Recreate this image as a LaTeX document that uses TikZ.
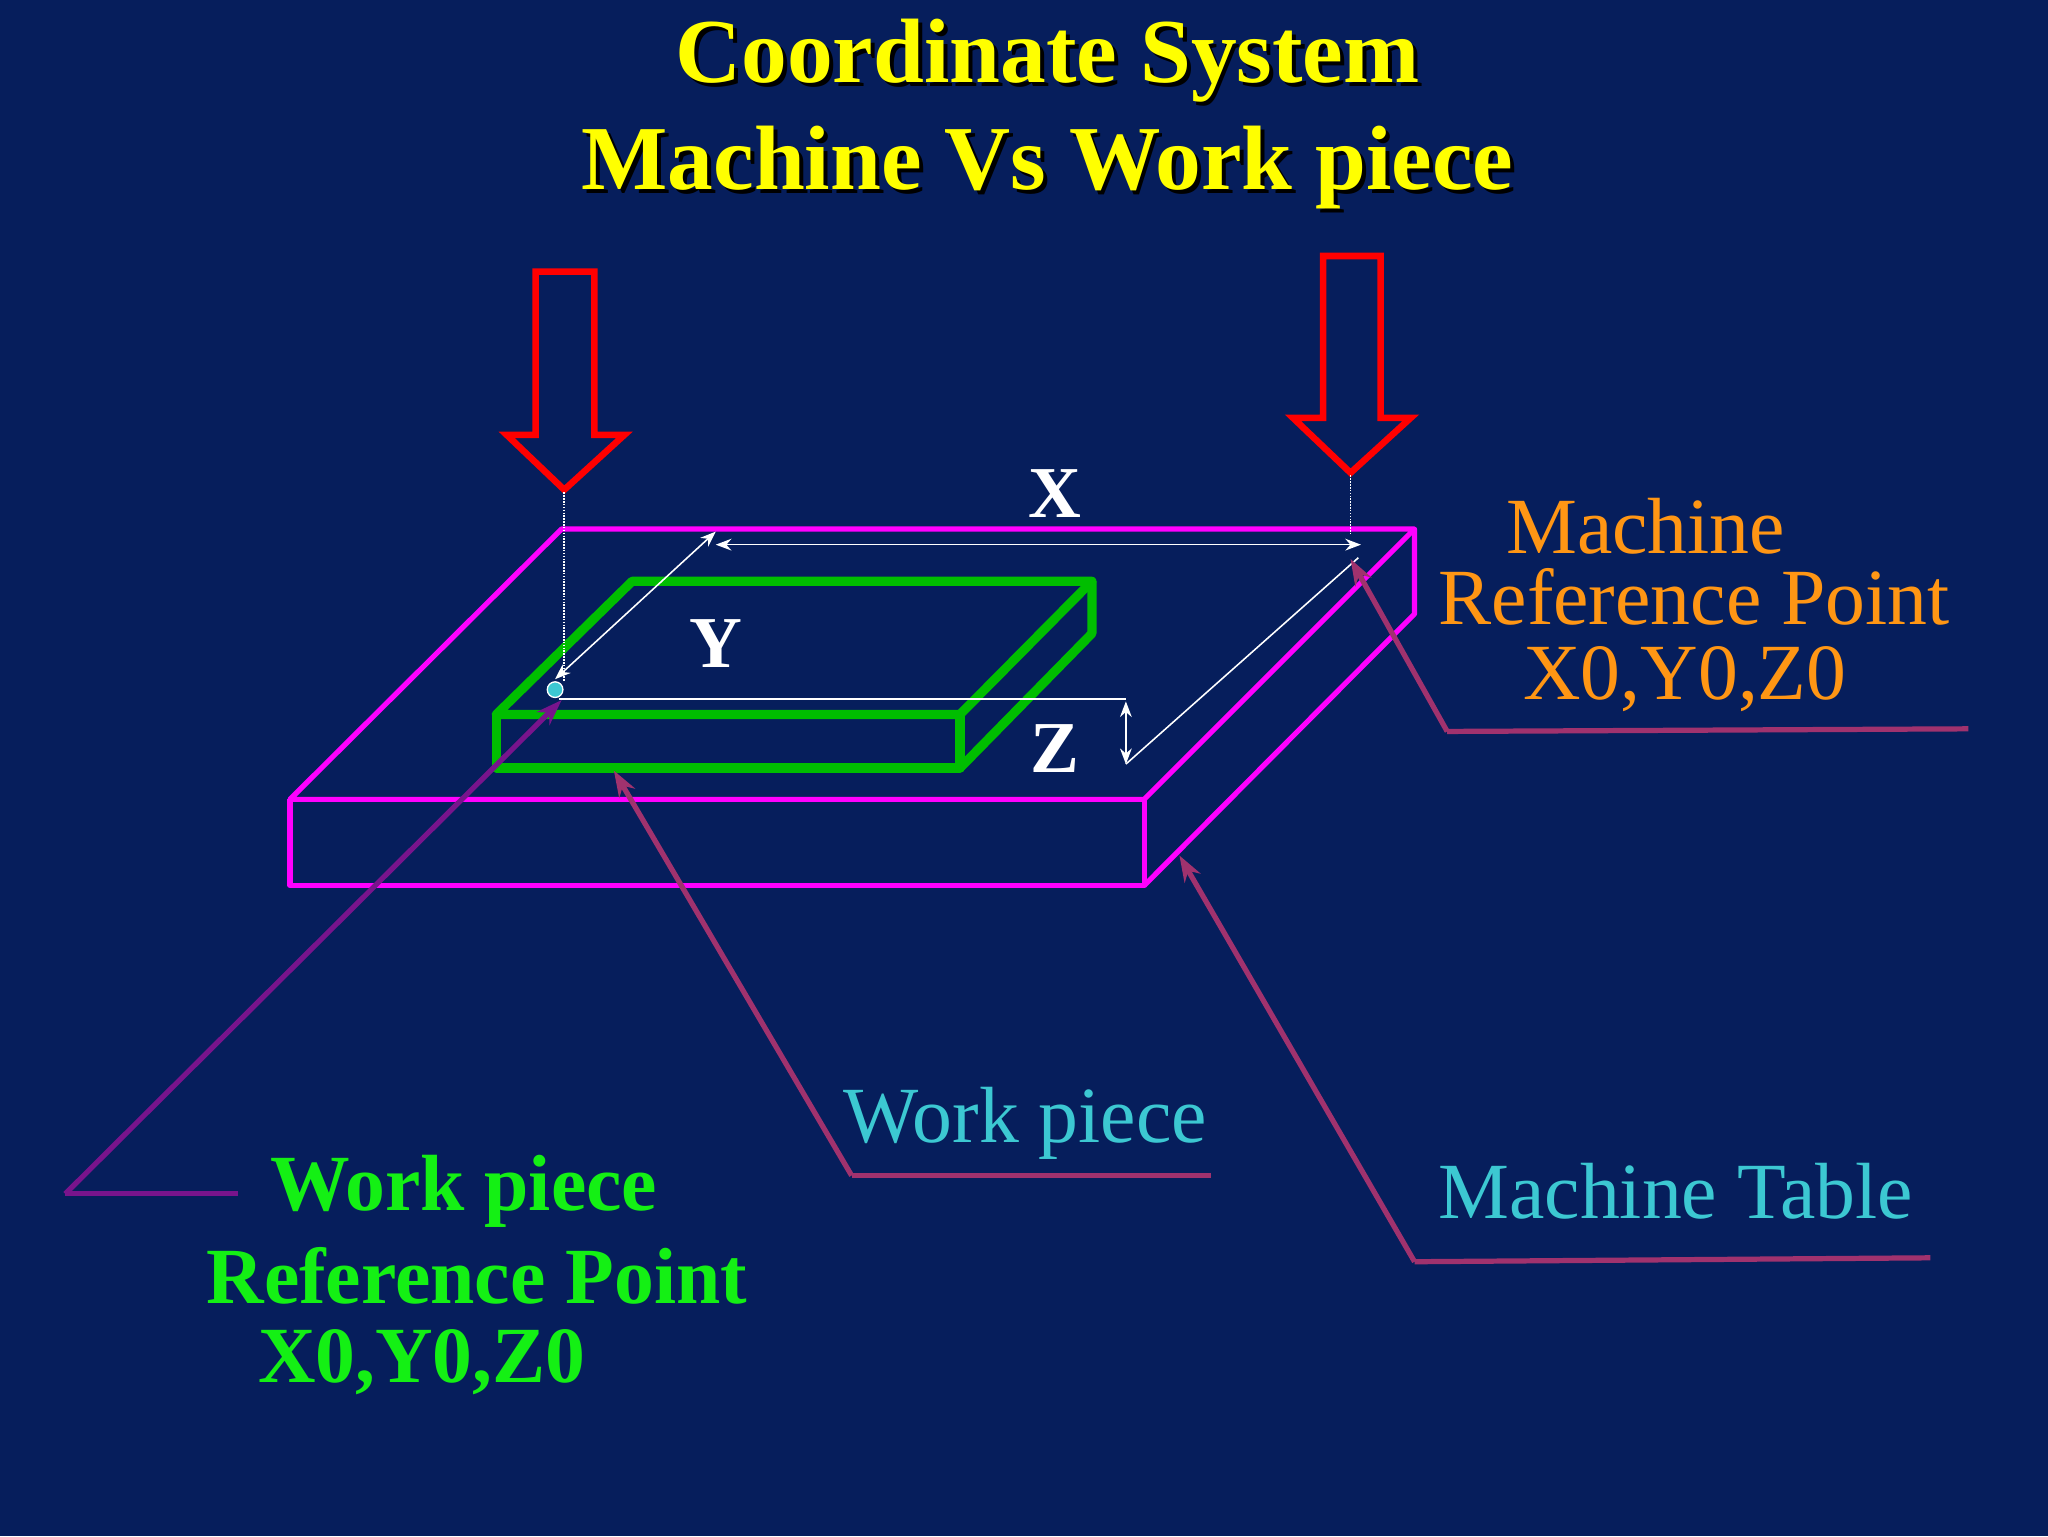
\documentclass[tikz,border=0pt]{standalone}
\usepackage{fontspec}
\setmainfont{Liberation Serif}
\usetikzlibrary{arrows.meta}
\definecolor{bg}{RGB}{6,30,92}
\definecolor{mag}{RGB}{255,0,255}
\definecolor{grn}{RGB}{0,190,0}
\definecolor{lead}{RGB}{160,50,110}
\definecolor{leadp}{RGB}{120,20,140}
\definecolor{ora}{RGB}{255,150,20}
\definecolor{cy}{RGB}{60,200,210}
\definecolor{yel}{RGB}{255,255,0}
\definecolor{lgrn}{RGB}{20,240,20}
\tikzset{
 ttl/.style={font=\fontsize{70}{74}\selectfont\bfseries,text=yel},
 axl/.style={font=\fontsize{56}{60}\selectfont\bfseries,text=white},
 lab/.style={font=\fontsize{61}{64}\selectfont,inner sep=0pt},
 glab/.style={font=\fontsize{61}{64}\selectfont\bfseries,text=lgrn,inner sep=0pt},
 leader/.style={draw=lead,line width=4pt},
 dim/.style={draw=white,line width=1.2pt,{Stealth[length=12pt]}-{Stealth[length=12pt]}},
 redarrow/.style={draw=red,line width=5pt,line join=miter}
}
\begin{document}
\begin{tikzpicture}[x=1pt,y=-1pt]
\fill[bg] (0,0) rectangle (1568,1176);
\useasboundingbox (0,0) rectangle (1568,1176);
% title
\node[ttl] (t1) at (802,48) {\rlap{\kern3pt\raisebox{-3pt}{\color{black}Coordinate System}}Coordinate System};
\node[ttl] (t2) at (802,130) {\rlap{\kern3pt\raisebox{-3pt}{\color{black}Machine Vs Work piece}}Machine Vs Work piece};
% table
\draw[mag,line width=4pt,line join=round] (222,612) -- (430,405) -- (1083,405) -- (876,612) -- cycle;
\draw[mag,line width=4pt,line join=round] (222,612) -- (222,678) -- (876,678) -- (876,612);
\draw[mag,line width=4pt,line join=round] (876,678) -- (1083,470) -- (1083,405);
% workpiece
\draw[grn,line width=7pt,line join=round] (380,547) -- (484,445) -- (836,445) -- (735,547) -- cycle;
\draw[grn,line width=7pt,line join=round] (380,547) -- (380,588) -- (735,588) -- (735,547);
\draw[grn,line width=7pt,line join=round] (735,588) -- (836,485) -- (836,445);
% red arrows
\draw[redarrow] (410,208) -- (455,208) -- (455,333) -- (478,333) -- (432,375) -- (388,333) -- (410,333) -- cycle;
\draw[redarrow] (1013,196) -- (1057,196) -- (1057,320) -- (1080,320) -- (1034,362) -- (990,320) -- (1013,320) -- cycle;
\coordinate (ltip) at (432,377);
\coordinate (rtip) at (1034,364);
\coordinate (wref) at (425,528);
\draw[white,densely dotted,line width=1.2pt] (ltip) -- (432,522);
\draw[white,densely dotted,line width=1.2pt] (rtip) -- (1034,410);
% dimensions
\coordinate (xa) at (548,417); \coordinate (xb) at (1042,417);
\draw[dim] (xa) -- (xb);
\draw[dim] (548,407) -- (425,520);
\draw[white,line width=1.2pt] (428,535) -- (862,535);
\draw[dim] (862,537) -- (862,585);
\draw[white,line width=1.2pt] (862,585) -- (1040,427);
\fill[cy,draw=white,line width=1pt] (wref) circle (6);
\node[axl] (X) at (808,378) {X};
\node[axl] (Y) at (548,493) {Y};
\node[axl] (Z) at (808,573) {Z};
% machine ref
\node[lab,text=ora] (m1) at (1260,403) {Machine};
\node[lab,text=ora] (m2) at (1297,457) {Reference Point};
\node[lab,text=ora] (m3) at (1290,520) {X0,Y0,Z0};
\coordinate (mk) at (1108,560);
\draw[leader] (1507,558) -- (mk);
\draw[leader,-{Stealth[length=20pt,width=14pt]}] (mk) -- (1034,428);
% work piece
\node[lab,text=cy] (wp) at (785,860) {Work piece};
\coordinate (wk) at (652,900);
\draw[leader] (927,900) -- (wk);
\draw[leader,-{Stealth[length=20pt,width=14pt]}] (wk) -- (470,590);
% machine table
\node[lab,text=cy] (mt) at (1283,912) {Machine Table};
\coordinate (tk) at (1083,966);
\draw[leader] (1478,963) -- (tk);
\draw[leader,-{Stealth[length=20pt,width=14pt]}] (tk) -- (903,655);
% work piece reference
\node[glab] (g1) at (355,912) {Work piece};
\node[glab] (g2) at (365,977) {Reference Point};
\node[glab] (g3) at (323,1043) {X0,Y0,Z0};
\coordinate (gk) at (50,914);
\draw[draw=leadp,line width=4pt] (182,914) -- (gk);
\draw[draw=leadp,line width=4pt,-{Stealth[length=20pt,width=14pt]}] (gk) -- (430,536);
\end{tikzpicture}
\end{document}
